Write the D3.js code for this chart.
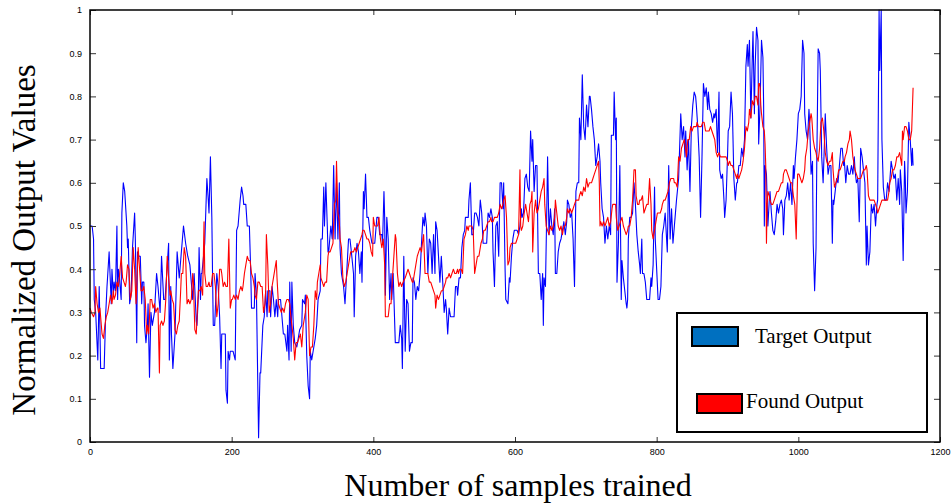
<!DOCTYPE html>
<html><head><meta charset="utf-8">
<script src="https://cdn.jsdelivr.net/npm/d3@7"></script>
<style>html,body{margin:0;padding:0;background:#fff;}svg{display:block;}</style>
</head><body>
<svg id="chart" width="952" height="503"></svg>
<script>
// ---- data: [sample index, normalized value] ----
const targetOutput = [[0,.50],[3,.50],[5,.47],[6,.33],[8,.30],[11,.19],[13,.36],[15,.17],[20,.17],[22,.29],[24,.36],[27,.44],[28,.40],[30,.32],[31,.40],[33,.34],[34,.37],[36,.35],[38,.50],[39,.33],[40,.40],[41,.39],[44,.33],[45,.53],[47,.60],[49,.58],[52,.50],[53,.45],[54,.47],[56,.32],[58,.34],[60,.45],[63,.53],[64,.47],[66,.23],[67,.44],[69,.43],[71,.43],[73,.32],[74,.37],[76,.37],[77,.27],[79,.23],[81,.27],[82,.32],[84,.15],[86,.30],[88,.27],[91,.30],[94,.39],[96,.36],[99,.30],[101,.43],[104,.33],[106,.33],[111,.46],[112,.19],[114,.36],[115,.25],[117,.17],[120,.25],[123,.44],[126,.38],[132,.50],[135,.46],[138,.43],[141,.41],[145,.33],[147,.39],[150,.28],[151,.27],[153,.34],[154,.45],[156,.33],[157,.39],[158,.39],[162,.46],[165,.61],[167,.56],[168,.53],[170,.66],[172,.52],[173,.39],[174,.27],[176,.27],[179,.39],[181,.36],[183,.29],[185,.17],[186,.25],[188,.25],[191,.25],[192,.12],[194,.09],[195,.21],[197,.19],[198,.21],[202,.21],[205,.19],[207,.49],[209,.50],[212,.56],[214,.59],[216,.57],[217,.55],[220,.55],[222,.50],[225,.50],[227,.39],[228,.31],[232,.31],[233,.39],[235,.34],[238,.01],[240,.16],[241,.16],[244,.27],[246,.29],[248,.35],[250,.29],[251,.35],[254,.35],[255,.29],[257,.36],[259,.33],[261,.29],[263,.33],[265,.29],[266,.33],[269,.33],[271,.29],[273,.25],[275,.25],[278,.21],[279,.27],[281,.19],[282,.37],[284,.21],[285,.37],[287,.27],[289,.23],[292,.22],[294,.24],[296,.26],[299,.27],[300,.33],[303,.32],[304,.34],[306,.20],[308,.13],[310,.10],[311,.21],[313,.19],[315,.21],[318,.24],[320,.27],[322,.33],[325,.35],[326,.47],[328,.47],[330,.59],[331,.50],[333,.60],[335,.50],[336,.44],[337,.44],[340,.50],[342,.47],[344,.64],[346,.47],[348,.60],[350,.47],[352,.60],[353,.45],[355,.39],[358,.36],[360,.32],[362,.38],[365,.47],[367,.47],[369,.44],[372,.39],[373,.29],[375,.43],[377,.46],[379,.44],[381,.39],[383,.44],[384,.37],[386,.58],[387,.54],[389,.62],[391,.52],[393,.52],[395,.49],[398,.46],[400,.46],[402,.46],[405,.52],[407,.52],[409,.48],[412,.48],[413,.46],[415,.58],[416,.52],[417,.34],[419,.52],[421,.47],[423,.33],[425,.39],[426,.33],[428,.39],[431,.23],[433,.23],[436,.23],[438,.27],[440,.24],[441,.17],[443,.43],[445,.21],[447,.33],[449,.32],[451,.21],[453,.23],[455,.23],[456,.38],[458,.37],[460,.33],[462,.36],[464,.35],[466,.39],[468,.46],[470,.52],[472,.50],[473,.53],[475,.50],[477,.39],[479,.47],[481,.46],[483,.39],[485,.48],[487,.39],[488,.51],[490,.49],[492,.43],[494,.37],[496,.43],[498,.37],[500,.30],[502,.33],[503,.31],[505,.25],[507,.31],[509,.29],[511,.29],[514,.29],[516,.36],[518,.36],[519,.34],[521,.38],[523,.38],[525,.45],[527,.48],[529,.49],[530,.52],[534,.52],[535,.56],[537,.60],[539,.48],[541,.48],[543,.53],[545,.53],[547,.52],[549,.50],[551,.56],[553,.53],[555,.46],[558,.46],[560,.46],[562,.53],[564,.52],[566,.54],[568,.52],[569,.44],[571,.36],[573,.50],[575,.51],[577,.43],[579,.60],[581,.60],[583,.54],[584,.60],[586,.40],[587,.33],[590,.32],[592,.38],[593,.37],[595,.43],[597,.47],[599,.49],[601,.49],[603,.49],[605,.48],[607,.50],[609,.54],[610,.52],[612,.53],[614,.61],[616,.62],[618,.59],[620,.58],[622,.72],[624,.65],[625,.70],[627,.58],[629,.64],[631,.64],[633,.39],[635,.39],[637,.33],[639,.39],[640,.27],[641,.38],[643,.36],[645,.55],[646,.66],[648,.48],[650,.54],[652,.50],[654,.48],[656,.54],[657,.39],[659,.39],[661,.44],[663,.46],[665,.47],[667,.49],[669,.51],[671,.48],[673,.51],[674,.56],[676,.55],[678,.52],[680,.53],[682,.47],[684,.36],[686,.58],[688,.60],[690,.60],[691,.75],[693,.70],[695,.85],[697,.73],[699,.70],[701,.78],[703,.73],[705,.80],[706,.80],[708,.77],[710,.73],[712,.70],[714,.64],[716,.66],[718,.69],[720,.65],[721,.60],[723,.54],[725,.52],[727,.46],[729,.50],[731,.47],[733,.50],[735,.48],[736,.71],[739,.71],[740,.81],[742,.70],[743,.75],[744,.37],[746,.46],[748,.64],[750,.33],[751,.42],[753,.38],[755,.35],[757,.32],[758,.31],[759,.33],[760,.47],[762,.52],[764,.52],[766,.53],[768,.60],[770,.55],[772,.48],[774,.44],[776,.41],[777,.39],[779,.47],[780,.39],[782,.39],[784,.37],[786,.33],[788,.33],[790,.33],[792,.38],[793,.36],[795,.41],[797,.59],[798,.47],[800,.40],[802,.33],[804,.33],[806,.36],[808,.48],[810,.50],[812,.53],[813,.50],[815,.44],[817,.64],[819,.47],[821,.54],[823,.46],[825,.50],[826,.52],[828,.56],[831,.61],[832,.66],[834,.76],[836,.70],[838,.73],[840,.66],[841,.72],[843,.63],[845,.70],[847,.58],[849,.73],[851,.78],[853,.81],[855,.80],[856,.78],[858,.73],[860,.66],[862,.52],[864,.66],[866,.83],[868,.80],[870,.82],[872,.77],[873,.81],[875,.77],[877,.76],[879,.74],[881,.76],[882,.75],[884,.77],[886,.67],[888,.81],[889,.63],[891,.61],[893,.62],[895,.56],[896,.52],[898,.56],[900,.66],[901,.72],[903,.73],[905,.81],[907,.76],[909,.61],[911,.56],[913,.60],[914,.60],[916,.64],[918,.64],[920,.68],[922,.66],[924,.70],[926,.87],[928,.92],[929,.87],[931,.93],[933,.75],[935,.89],[936,.95],[938,.76],[939,.87],[941,.96],[943,.93],[944,.69],[946,.78],[948,.93],[950,.89],[951,.78],[952,.50],[953,.64],[955,.62],[957,.50],[959,.56],[960,.58],[962,.53],[964,.49],[966,.48],[968,.51],[970,.55],[972,.53],[974,.55],[976,.56],[978,.54],[979,.48],[981,.56],[983,.57],[985,.60],[987,.56],[989,.60],[991,.55],[993,.64],[994,.61],[996,.66],[998,.70],[1000,.76],[1002,.77],[1004,.80],[1006,.93],[1008,.90],[1009,.76],[1011,.72],[1013,.70],[1015,.77],[1016,.74],[1018,.62],[1020,.65],[1021,.46],[1023,.35],[1025,.45],[1026,.64],[1028,.91],[1030,.90],[1031,.86],[1032,.76],[1033,.66],[1035,.60],[1037,.70],[1038,.76],[1040,.68],[1042,.62],[1044,.64],[1046,.64],[1048,.46],[1049,.56],[1050,.55],[1052,.58],[1054,.61],[1056,.60],[1058,.64],[1060,.68],[1062,.68],[1064,.64],[1065,.65],[1067,.60],[1069,.64],[1071,.62],[1073,.62],[1075,.64],[1077,.62],[1079,.66],[1080,.63],[1082,.60],[1084,.61],[1086,.51],[1088,.68],[1090,.66],[1092,.63],[1094,.60],[1096,.41],[1097,.50],[1099,.41],[1101,.44],[1103,.55],[1105,.53],[1107,.55],[1109,.50],[1111,.55],[1112,.56],[1114,1.00],[1115,.86],[1117,1.00],[1118,.70],[1120,.59],[1122,.56],[1124,.56],[1126,.60],[1128,.58],[1129,.60],[1131,.65],[1133,.63],[1135,.61],[1137,.62],[1139,.56],[1141,.61],[1143,.55],[1144,.63],[1146,.58],[1148,.42],[1150,.65],[1151,.61],[1152,.53],[1154,.58],[1156,.74],[1158,.70],[1160,.64],[1161,.68],[1162,.64]];

const foundOutput = [[0,.31],[2,.30],[5,.29],[7,.30],[8,.36],[10,.32],[12,.30],[14,.31],[16,.27],[17,.25],[19,.24],[21,.27],[23,.29],[25,.30],[27,.32],[29,.34],[31,.32],[33,.35],[34,.33],[36,.34],[38,.37],[40,.36],[42,.39],[44,.43],[46,.38],[48,.37],[50,.36],[51,.37],[53,.41],[55,.40],[57,.33],[59,.35],[61,.45],[63,.40],[65,.32],[66,.36],[68,.45],[70,.40],[72,.35],[74,.35],[76,.36],[78,.33],[80,.25],[81,.27],[83,.25],[85,.33],[87,.33],[89,.31],[91,.32],[93,.30],[95,.31],[96,.31],[98,.16],[99,.27],[101,.28],[103,.27],[105,.28],[107,.33],[109,.43],[111,.38],[113,.34],[114,.35],[116,.33],[118,.32],[120,.26],[122,.25],[124,.27],[126,.28],[128,.35],[129,.39],[131,.39],[133,.45],[135,.43],[137,.32],[139,.33],[141,.32],[143,.33],[145,.39],[146,.37],[148,.26],[150,.25],[152,.32],[153,.35],[155,.35],[157,.36],[159,.34],[161,.51],[162,.39],[164,.36],[166,.36],[168,.37],[169,.36],[171,.36],[173,.39],[175,.39],[177,.36],[179,.29],[181,.32],[183,.40],[185,.40],[186,.39],[188,.36],[190,.37],[192,.36],[194,.36],[196,.47],[198,.31],[200,.33],[201,.33],[203,.34],[205,.33],[207,.34],[209,.33],[211,.35],[213,.36],[215,.35],[216,.36],[218,.39],[220,.41],[222,.43],[224,.42],[226,.42],[228,.39],[230,.38],[232,.36],[233,.34],[235,.33],[237,.37],[239,.37],[241,.36],[243,.36],[245,.30],[247,.32],[248,.35],[249,.48],[251,.41],[253,.30],[255,.32],[257,.36],[259,.38],[261,.40],[263,.42],[264,.38],[266,.32],[268,.31],[270,.30],[272,.31],[274,.30],[276,.32],[278,.33],[280,.33],[282,.32],[283,.30],[285,.27],[287,.24],[289,.19],[291,.23],[293,.23],[295,.24],[297,.25],[299,.22],[301,.27],[303,.29],[304,.30],[306,.34],[308,.33],[310,.20],[312,.22],[314,.22],[316,.27],[318,.35],[320,.33],[321,.37],[323,.39],[325,.41],[326,.38],[328,.37],[330,.36],[332,.37],[334,.37],[336,.43],[337,.44],[339,.44],[341,.45],[343,.46],[345,.55],[347,.56],[348,.65],[350,.53],[352,.51],[353,.47],[355,.45],[357,.38],[359,.36],[361,.37],[363,.39],[365,.41],[367,.43],[368,.44],[370,.44],[372,.44],[374,.45],[376,.44],[378,.45],[380,.46],[382,.47],[384,.48],[385,.49],[387,.49],[389,.48],[391,.47],[393,.47],[395,.46],[397,.44],[399,.43],[400,.52],[402,.50],[404,.50],[406,.50],[408,.52],[410,.47],[412,.45],[414,.47],[416,.41],[417,.29],[419,.29],[421,.29],[423,.32],[425,.32],[427,.38],[429,.43],[431,.48],[432,.47],[434,.39],[436,.36],[438,.37],[440,.36],[442,.37],[445,.38],[447,.39],[449,.40],[451,.39],[453,.38],[455,.37],[456,.37],[458,.39],[460,.41],[462,.43],[464,.44],[466,.45],[468,.44],[470,.47],[471,.48],[473,.39],[475,.39],[477,.39],[479,.37],[481,.37],[483,.36],[485,.35],[487,.34],[488,.31],[490,.34],[492,.33],[494,.34],[496,.35],[498,.35],[500,.36],[502,.37],[503,.38],[505,.38],[507,.39],[509,.38],[511,.39],[513,.40],[515,.39],[517,.39],[519,.40],[520,.39],[522,.40],[524,.40],[526,.39],[528,.47],[530,.48],[532,.50],[534,.49],[535,.50],[537,.50],[539,.50],[541,.49],[543,.39],[545,.41],[547,.43],[549,.43],[551,.45],[552,.46],[554,.47],[556,.49],[558,.49],[560,.50],[562,.51],[564,.51],[566,.52],[567,.51],[569,.51],[571,.52],[573,.52],[575,.52],[577,.53],[579,.55],[581,.54],[583,.55],[584,.56],[586,.57],[588,.52],[590,.41],[592,.42],[593,.45],[595,.46],[597,.46],[599,.46],[601,.46],[603,.47],[605,.48],[607,.63],[608,.50],[609,.49],[611,.50],[613,.53],[615,.55],[617,.53],[619,.51],[621,.55],[623,.56],[624,.58],[625,.44],[627,.53],[629,.56],[631,.53],[633,.54],[635,.56],[637,.58],[639,.59],[641,.61],[642,.55],[644,.50],[646,.49],[648,.48],[650,.50],[652,.49],[654,.50],[656,.52],[657,.56],[659,.53],[661,.50],[663,.49],[665,.50],[667,.48],[669,.50],[671,.50],[673,.52],[674,.54],[676,.53],[678,.54],[680,.53],[682,.54],[684,.55],[686,.56],[688,.56],[690,.56],[691,.57],[693,.58],[695,.57],[697,.59],[699,.58],[701,.61],[703,.59],[705,.60],[706,.60],[708,.60],[710,.61],[712,.62],[714,.63],[716,.64],[718,.65],[719,.60],[720,.50],[721,.51],[723,.50],[725,.51],[727,.50],[729,.51],[731,.52],[733,.50],[735,.51],[737,.54],[738,.55],[740,.55],[742,.55],[743,.52],[745,.49],[747,.50],[749,.51],[751,.52],[753,.50],[755,.49],[757,.48],[759,.49],[760,.50],[762,.50],[764,.52],[766,.56],[768,.63],[770,.63],[771,.57],[773,.55],[775,.55],[776,.56],[778,.56],[780,.57],[781,.55],[782,.53],[784,.54],[786,.55],[788,.55],[790,.61],[792,.55],[793,.49],[795,.47],[797,.49],[799,.51],[801,.53],[803,.53],[805,.53],[807,.54],[808,.55],[810,.56],[812,.56],[814,.57],[816,.58],[818,.60],[820,.61],[822,.61],[824,.61],[825,.60],[827,.60],[829,.59],[831,.66],[833,.65],[835,.68],[837,.69],[839,.70],[840,.69],[842,.66],[844,.70],[846,.70],[848,.73],[850,.72],[852,.73],[854,.73],[856,.73],[857,.74],[859,.73],[861,.73],[863,.73],[865,.74],[867,.74],[869,.72],[871,.72],[872,.72],[874,.72],[876,.73],[878,.72],[880,.71],[882,.70],[884,.67],[886,.66],[888,.67],[890,.66],[892,.66],[894,.66],[896,.66],[898,.66],[900,.65],[901,.64],[903,.65],[905,.64],[907,.64],[909,.63],[911,.62],[913,.61],[914,.62],[916,.61],[918,.62],[920,.63],[922,.65],[924,.68],[926,.73],[928,.72],[930,.74],[931,.77],[933,.75],[935,.79],[937,.78],[939,.80],[941,.80],[943,.78],[944,.83],[945,.83],[946,.82],[947,.78],[948,.76],[950,.73],[952,.72],[953,.69],[954,.64],[955,.46],[956,.55],[957,.58],[959,.57],[960,.56],[962,.55],[964,.55],[966,.56],[968,.57],[970,.58],[972,.58],[974,.59],[976,.60],[978,.60],[979,.62],[981,.63],[983,.63],[985,.62],[987,.61],[989,.60],[991,.60],[993,.57],[994,.56],[995,.55],[997,.47],[999,.62],[1001,.62],[1003,.61],[1005,.60],[1007,.61],[1009,.63],[1010,.66],[1012,.68],[1014,.72],[1016,.74],[1018,.76],[1019,.75],[1021,.70],[1023,.68],[1025,.67],[1026,.66],[1028,.65],[1030,.68],[1032,.74],[1034,.75],[1036,.72],[1038,.67],[1040,.65],[1042,.64],[1044,.65],[1046,.65],[1048,.67],[1049,.63],[1051,.59],[1053,.60],[1055,.61],[1057,.63],[1059,.63],[1061,.64],[1063,.65],[1065,.65],[1066,.66],[1068,.67],[1070,.69],[1072,.70],[1073,.72],[1075,.70],[1077,.66],[1079,.64],[1080,.63],[1082,.62],[1084,.61],[1086,.61],[1088,.61],[1090,.62],[1092,.63],[1094,.63],[1096,.64],[1097,.63],[1099,.57],[1101,.56],[1103,.56],[1105,.56],[1107,.56],[1109,.55],[1111,.54],[1112,.53],[1114,.54],[1116,.55],[1118,.56],[1120,.56],[1122,.56],[1124,.56],[1126,.56],[1128,.58],[1129,.60],[1131,.61],[1133,.63],[1135,.63],[1137,.64],[1139,.66],[1141,.66],[1143,.67],[1144,.66],[1146,.64],[1147,.72],[1148,.70],[1150,.73],[1152,.73],[1154,.72],[1156,.70],[1158,.70],[1160,.72],[1162,.82]];

const xTicks = [0, 200, 400, 600, 800, 1000, 1200];
const yTicks = [0, 0.1, 0.2, 0.3, 0.4, 0.5, 0.6, 0.7, 0.8, 0.9, 1];
const seriesNames = ["Target Output", "Found Output"];
const xTitle = "Number of samples trained";
const yTitle = "Normalized Output Values";

// ---- layout ----
const L = 90, R = 940, T = 10, B = 442;
const svg = d3.select("#chart");
const x = d3.scaleLinear().domain([0, 1200]).range([L, R]);
const y = d3.scaleLinear().domain([0, 1]).range([B, T]);

svg.append("rect").attr("width", 952).attr("height", 503).attr("fill", "#fff");

const line = d3.line().x(d => x(d[0])).y(d => y(d[1]));

svg.append("path").datum(targetOutput).attr("d", line)
  .attr("fill", "none").attr("stroke", "#0000ff").attr("stroke-width", 1.1).attr("stroke-linejoin", "round");
svg.append("path").datum(foundOutput).attr("d", line)
  .attr("fill", "none").attr("stroke", "#ff0000").attr("stroke-width", 1.1).attr("stroke-linejoin", "round");

// axes (ticks inward on all 4 sides)
const tickFont = "'Liberation Sans', Arial, sans-serif";
const xb = svg.append("g").attr("transform", `translate(0,${B})`)
  .call(d3.axisBottom(x).tickValues(xTicks).tickSize(-5).tickPadding(7).tickFormat(d3.format("d")));
const xt = svg.append("g").attr("transform", `translate(0,${T})`)
  .call(d3.axisTop(x).tickValues(xTicks).tickSize(-5).tickFormat(""));
const yl = svg.append("g").attr("transform", `translate(${L},0)`)
  .call(d3.axisLeft(y).tickValues(yTicks).tickSize(-6).tickPadding(8).tickFormat(d => d3.format("")(+d.toFixed(1))));
const yr = svg.append("g").attr("transform", `translate(${R},0)`)
  .call(d3.axisRight(y).tickValues(yTicks).tickSize(-6).tickFormat(""));
[xb, xt, yl, yr].forEach(g => {
  g.select(".domain").remove();
  g.selectAll(".tick line").attr("stroke", "#333").attr("stroke-width", 1);
  g.selectAll("text").attr("font-family", tickFont).attr("font-size", 9).attr("fill", "#000");
});

// frame
svg.append("rect").attr("x", L).attr("y", T).attr("width", R - L).attr("height", B - T)
  .attr("fill", "none").attr("stroke", "#000").attr("stroke-width", 1.5);

// titles
const serif = "'Liberation Serif', 'Times New Roman', serif";
svg.append("text").attr("x", 518).attr("y", 496).attr("text-anchor", "middle")
  .attr("font-family", serif).attr("font-size", 32).text(xTitle);
svg.append("text").attr("transform", "translate(35,240) rotate(-90)").attr("text-anchor", "middle")
  .attr("font-family", serif).attr("font-size", 33).text(yTitle);

// legend
const lg = svg.append("g");
lg.append("rect").attr("x", 677).attr("y", 313).attr("width", 250).attr("height", 119)
  .attr("fill", "#fff").attr("stroke", "#000").attr("stroke-width", 2);
lg.append("rect").attr("x", 692).attr("y", 327).attr("width", 46).attr("height", 19)
  .attr("fill", "#0070c0").attr("stroke", "#000").attr("stroke-width", 2);
lg.append("text").attr("x", 755).attr("y", 343).attr("font-family", serif).attr("font-size", 21).text(seriesNames[0]);
lg.append("rect").attr("x", 697).attr("y", 394).attr("width", 45).attr("height", 19)
  .attr("fill", "#ff0000").attr("stroke", "#000").attr("stroke-width", 2);
lg.append("text").attr("x", 746).attr("y", 408).attr("font-family", serif).attr("font-size", 21).text(seriesNames[1]);
</script>
</body></html>
